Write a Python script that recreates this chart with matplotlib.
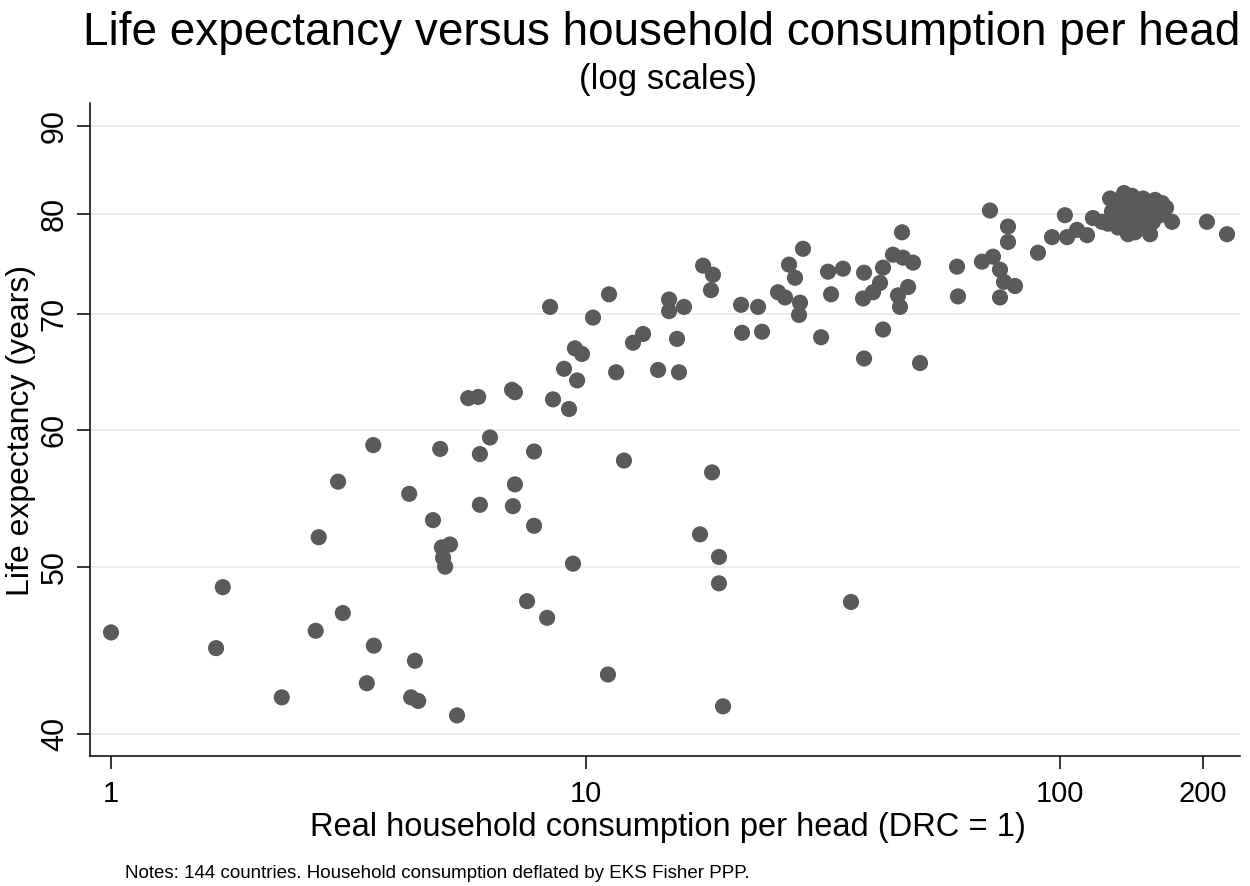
import matplotlib
matplotlib.use('Agg')
import matplotlib.pyplot as plt
from matplotlib.ticker import FixedLocator, FixedFormatter, NullLocator

# real household consumption per head (DRC = 1) and life expectancy, 144 countries
consumption = [
    1.00, 1.72, 1.665, 2.29, 2.74, 2.70, 3.01, 3.08, 3.57, 3.58, 3.46, 4.25, 4.37, 4.29, 4.44,
    4.94, 4.77, 4.98, 5.18, 5.01, 5.06, 5.36, 5.66, 5.94, 5.99, 6.29, 5.99, 7.00, 7.10, 7.10,
    7.03, 7.79, 7.79, 7.53, 8.30, 8.54, 8.42, 9.23, 9.01, 9.41, 9.50, 9.83, 9.60,
    10.37, 11.21, 11.15, 12.05, 11.60, 12.59, 13.22, 14.22, 15.0, 15.0, 16.13, 15.59, 15.74,
    17.43, 17.69, 18.56, 18.38, 18.48, 19.11, 19.11, 19.49,
    21.27, 23.10, 21.37, 23.55, 25.45, 26.33, 26.85, 27.64, 28.73, 28.32, 28.18, 31.36,
    32.44, 34.88, 32.92, 36.26, 38.64, 38.45, 38.64,
    46.45, 44.46, 46.67, 49.0, 42.36, 41.75, 40.36, 47.84, 45.56, 46.0, 42.36, 50.7,
    60.67, 60.95, 68.47, 72.23, 74.73, 76.21, 80.38, 74.73, 71.19, 77.69, 77.69,
    89.86, 96.18, 102.4, 103.5, 108.6, 114.0, 117.3, 172.2, 204.0, 224.9,
    127.5, 128.7, 126.2, 136.4, 135.1, 133.8, 132.5, 139.1, 140.5, 139.1, 145.3, 146.0,
    147.5, 143.9, 152.6, 153.3, 151.8, 158.6, 160.2, 157.0, 164.1, 162.5, 122.6, 149.6,
    141.8, 154.8, 131.2, 167.3,
]
life_exp = [
    45.8, 48.65, 44.85, 42.0, 52.0, 45.9, 56.0, 47.0, 58.8, 45.0, 42.8, 55.1, 44.1, 42.0, 41.8,
    58.5, 53.2, 51.3, 51.5, 50.6, 50.0, 41.0, 62.6, 62.7, 58.1, 59.4, 54.3, 63.3, 63.1, 55.8,
    54.2, 58.3, 52.8, 47.75, 46.7, 62.5, 70.7, 61.7, 65.1, 50.2, 66.9, 66.4, 64.1,
    69.7, 71.9, 43.3, 57.6, 64.8, 67.4, 68.2, 65.0, 71.4, 70.3, 70.7, 67.75, 64.8,
    52.2, 74.7, 73.8, 72.3, 56.7, 50.65, 48.9, 41.5,
    70.9, 70.7, 68.3, 68.4, 72.1, 71.6, 74.8, 73.5, 76.4, 71.1, 69.95, 67.9,
    74.1, 74.4, 71.9, 47.7, 74.0, 71.5, 66.0,
    78.1, 75.8, 75.5, 75.0, 74.5, 73.0, 72.1, 72.6, 71.8, 70.7, 68.6, 65.6,
    74.6, 71.7, 75.1, 75.6, 74.3, 73.1, 72.7, 71.6, 80.4, 78.7, 77.1,
    76.0, 77.6, 79.9, 77.6, 78.35, 77.8, 79.6, 79.2, 79.2, 77.9,
    81.7, 80.3, 79.0, 82.3, 81.0, 79.6, 78.6, 80.5, 79.2, 77.9, 81.1, 79.9,
    78.8, 78.1, 80.7, 79.4, 78.5, 81.55, 80.3, 79.2, 81.2, 79.9, 79.2, 81.7,
    82.0, 77.9, 81.2, 80.7,
]

x_ticks = [1, 10, 100, 200]
x_labels = ['1', '10', '100', '200']
y_ticks = [40, 50, 60, 70, 80, 90]
y_labels = ['40', '50', '60', '70', '80', '90']

plt.rcParams['font.family'] = ['Liberation Sans', 'DejaVu Sans']

fig = plt.figure(figsize=(12.5, 8.86), dpi=100)
ax = fig.add_axes([90 / 1250, 1 - 756 / 886, 1150 / 1250, 653 / 886])

ax.scatter(consumption, life_exp, s=135, color='#5a5a5a', edgecolors='none', zorder=3)

ax.set_xscale('log')
ax.set_yscale('log')
ax.set_xlim(0.903, 239.5)
ax.set_ylim(38.84, 92.8)

ax.xaxis.set_major_locator(FixedLocator(x_ticks))
ax.xaxis.set_major_formatter(FixedFormatter(x_labels))
ax.xaxis.set_minor_locator(NullLocator())
ax.yaxis.set_major_locator(FixedLocator(y_ticks))
ax.yaxis.set_major_formatter(FixedFormatter(y_labels))
ax.yaxis.set_minor_locator(NullLocator())

ax.grid(True, axis='y', color='#eaeaea', linewidth=1.3, zorder=0)
ax.set_axisbelow(True)

for side in ['top', 'right']:
    ax.spines[side].set_visible(False)
for side in ['left', 'bottom']:
    ax.spines[side].set_linewidth(1.1)
    ax.spines[side].set_color('black')

ax.tick_params(axis='both', direction='out', length=9.5, width=1.1, color='black')
ax.tick_params(axis='x', pad=8)
ax.tick_params(axis='y', pad=5)
for lab in ax.get_xticklabels():
    lab.set_fontsize(21)
for lab in ax.get_yticklabels():
    lab.set_fontsize(22)
    lab.set_rotation(90)
    lab.set_va('center')

fig.text(0.5296, 1 - 45 / 886, 'Life expectancy versus household consumption per head',
         ha='center', va='baseline', fontsize=33)
fig.text(0.5344, 1 - 89 / 886, '(log scales)', ha='center', va='baseline', fontsize=25)
fig.text(0.0165, 1 - 430 / 886, 'Life expectancy (years)', rotation=90,
         ha='center', va='center', fontsize=23)
fig.text(0.5344, 1 - 836 / 886, 'Real household consumption per head (DRC = 1)',
         ha='center', va='baseline', fontsize=23.5)
fig.text(0.1, 1 - 878 / 886, 'Notes: 144 countries. Household consumption deflated by EKS Fisher PPP.',
         ha='left', va='baseline', fontsize=13.5)

fig.savefig('out.png', dpi=100)
